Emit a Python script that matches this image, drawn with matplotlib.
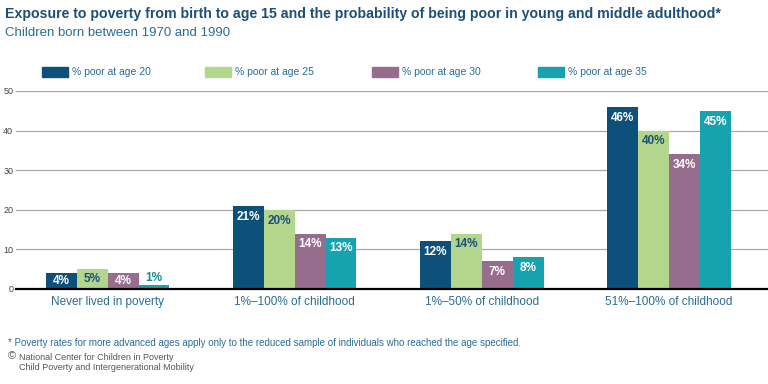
import numpy as np
import matplotlib
matplotlib.use('Agg')
import matplotlib.pyplot as plt
from matplotlib.patches import Rectangle

categories = ['Never lived in poverty', '1%\u2013100% of childhood',
              '1%\u201350% of childhood', '51%\u2013100% of childhood']
series_names = ['% poor at age 20', '% poor at age 25',
                '% poor at age 30', '% poor at age 35']
age20 = [4, 21, 12, 46]
age25 = [5, 20, 14, 40]
age30 = [4, 14, 7, 34]
age35 = [1, 13, 8, 45]
yticks = [0, 10, 20, 30, 40, 50]

colors = ['#0d5079', '#b2d78c', '#976d8e', '#16a2ae']
label_colors = ['white', '#1d4f78', 'white', 'white']
title_col = '#1d4f78'
text_col = '#2a6d92'

plt.rcParams['font.family'] = ['Liberation Sans', 'DejaVu Sans']

fig = plt.figure(figsize=(7.68, 3.84), dpi=100)
ax = fig.add_axes([16/768, 1 - 289/384, 752/768, (289 - 91)/384])

values = [age20, age25, age30, age35]
x = np.arange(len(categories))
w = 0.165
for i, vals in enumerate(values):
    xs = x + (i - 1.5) * w
    ax.bar(xs, vals, width=w, color=colors[i], zorder=3)
    for xi, v in zip(xs, vals):
        if v < 3:
            # too short: put the label just above the bar
            ax.text(xi, v + 0.3, f'{v}%', ha='center', va='bottom', fontsize=8.5,
                    fontweight='bold', color='#1a8a96', zorder=4)
        elif v < 6:
            ax.text(xi, v / 2, f'{v}%', ha='center', va='center', fontsize=8.5,
                    fontweight='bold', color=label_colors[i], zorder=4)
        else:
            ax.text(xi, v - 1.2, f'{v}%', ha='center', va='top', fontsize=8.5,
                    fontweight='bold', color=label_colors[i], zorder=4)

ax.set_xlim(-0.49, 3.53)
ax.set_ylim(0, 50)
ax.set_yticks(yticks)
ax.set_yticklabels([str(t) for t in yticks], fontsize=6.5, color='#444444')
ax.tick_params(axis='y', length=0, pad=2)
ax.tick_params(axis='x', length=0, pad=5)
ax.set_xticks(x)
ax.set_xticklabels(categories, fontsize=8.5, color=text_col)
ax.yaxis.grid(True, color='#a8a8a8', lw=0.9, zorder=0)
for s in ['top', 'right', 'left']:
    ax.spines[s].set_visible(False)
ax.spines['bottom'].set_linewidth(1.6)
ax.spines['bottom'].set_color('black')
ax.spines['bottom'].set_zorder(5)

# legend
leg_x = [42, 205, 372, 538]
for lx, name, c in zip(leg_x, series_names, colors):
    fig.patches.append(Rectangle((lx/768, 1 - 77/384), 26/768, 10/384,
                                 transform=fig.transFigure, color=c))
    fig.text((lx + 30)/768, 1 - 72/384, name, fontsize=7.5, color=text_col,
             va='center', ha='left')

fig.text(5/768, 1 - 14/384,
         'Exposure to poverty from birth to age 15 and the probability of being poor in young and middle adulthood*',
         fontsize=10.2, fontweight='bold', color=title_col, va='center', ha='left')
fig.text(5/768, 1 - 33/384, 'Children born between 1970 and 1990',
         fontsize=9.5, color=text_col, va='center', ha='left')

fig.text(8/768, 1 - 343/384,
         '* Poverty rates for more advanced ages apply only to the reduced sample of individuals who reached the age specified.',
         fontsize=7, color=text_col, va='center', ha='left')
fig.text(8/768, 1 - 356/384, '\u00a9', fontsize=8, color='#555555', va='center', ha='left')
fig.text(19/768, 1 - 357/384, 'National Center for Children in Poverty',
         fontsize=6.5, color='#555555', va='center', ha='left')
fig.text(19/768, 1 - 367/384, 'Child Poverty and Intergenerational Mobility',
         fontsize=6.5, color='#555555', va='center', ha='left')

fig.savefig('out.png', dpi=100)
